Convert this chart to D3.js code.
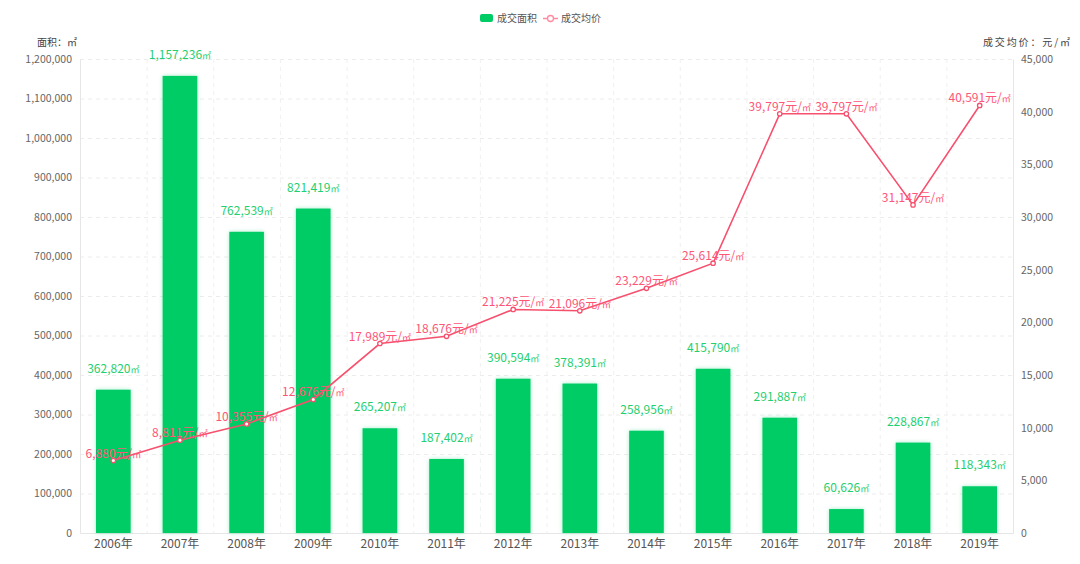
<!DOCTYPE html>
<html><head><meta charset="utf-8">
<script src="https://cdn.jsdelivr.net/npm/d3@7"></script>
<style>body{margin:0;background:#fff;}svg{display:block;font-family:"Noto Sans CJK SC","Noto Sans",sans-serif;}</style>
</head><body>
<svg id="c" width="1080" height="564"></svg>
<script>
const years = ["2006年","2007年","2008年","2009年","2010年","2011年","2012年","2013年","2014年","2015年","2016年","2017年","2018年","2019年"];
const area = [362820,1157236,762539,821419,265207,187402,390594,378391,258956,415790,291887,60626,228867,118343];
const price = [6880,8811,10355,12676,17989,18676,21225,21096,23229,25614,39797,39797,31147,40591];
const leftTicks = [0,100000,200000,300000,400000,500000,600000,700000,800000,900000,1000000,1100000,1200000];
const rightTicks = [0,5000,10000,15000,20000,25000,30000,35000,40000,45000];
const seriesNames = ["成交面积","成交均价"];

const svg = d3.select("#c");
const L = 80, R = 1013, T = 59, B = 533;
const x = d3.scaleBand().domain(years).range([L, R]);
const yL = d3.scaleLinear().domain([0,1200000]).range([B, T]);
const yR = d3.scaleLinear().domain([0,45000]).range([B, T]);
const fmt = d3.format(",");
const green = "#00cc66", red = "#f7506e", redText = "#ff5577", gray = "#666";

const defs = svg.append("defs");
const f = defs.append("filter").attr("id","glow").attr("x","-30%").attr("y","-10%").attr("width","160%").attr("height","120%");
f.append("feDropShadow").attr("dx",0).attr("dy",0).attr("stdDeviation",2).attr("flood-color",green).attr("flood-opacity",0.35);

svg.append("g").selectAll("line").data(leftTicks.slice(1)).join("line")
  .attr("x1",L).attr("x2",R).attr("y1",d=>yL(d)+0.5).attr("y2",d=>yL(d)+0.5)
  .attr("stroke","#ececec").attr("stroke-dasharray","4,4");
svg.append("g").selectAll("line").data(years.slice(1)).join("line")
  .attr("x1",d=>x(d)+0.5).attr("x2",d=>x(d)+0.5).attr("y1",T).attr("y2",B)
  .attr("stroke","#f0f0f0").attr("stroke-dasharray","4,4");

const axL = svg.append("g").attr("transform",`translate(${L},0)`)
  .call(d3.axisLeft(yL).tickValues(leftTicks).tickFormat(fmt).tickSize(0).tickPadding(8));
const axR = svg.append("g").attr("transform",`translate(${R},0)`)
  .call(d3.axisRight(yR).tickValues(rightTicks).tickFormat(fmt).tickSize(0).tickPadding(8));
const axB = svg.append("g").attr("transform",`translate(0,${B})`)
  .call(d3.axisBottom(x).tickSize(0).tickPadding(6));
[axL,axR,axB].forEach(a=>{
  a.select(".domain").attr("stroke","#e6e6e6");
  a.selectAll("text").attr("fill",gray).style("font-family","'Noto Sans CJK SC',sans-serif");
});
axL.selectAll("text").attr("font-size",10.5);
axR.selectAll("text").attr("font-size",10.5);
axB.selectAll("text").attr("font-size",12).attr("fill","#555");

const bw = x.bandwidth()*0.52;
svg.append("g").selectAll("rect").data(years).join("rect")
  .attr("x",(d)=>x(d)+x.bandwidth()/2-bw/2).attr("width",bw)
  .attr("y",(d,i)=>yL(area[i])).attr("height",(d,i)=>B-yL(area[i]))
  .attr("fill",green).attr("filter","url(#glow)");

function lbl(sel, num, unit){
  sel.append("tspan").text(num);
  sel.append("tspan").attr("font-size",9).text(unit);
}
svg.append("g").selectAll("text").data(years).join("text")
  .attr("x",d=>x(d)+x.bandwidth()/2).attr("y",(d,i)=>yL(area[i])-17)
  .attr("text-anchor","middle").attr("font-size",12).attr("fill","#1fcf70")
  .each(function(d,i){ lbl(d3.select(this), fmt(area[i]), "㎡"); });

const line = d3.line().x((d,i)=>x(years[i])+x.bandwidth()/2).y(d=>yR(d));
svg.append("path").datum(price).attr("d",line).attr("fill","none").attr("stroke",red).attr("stroke-width",1.6);
svg.append("g").selectAll("circle").data(price).join("circle")
  .attr("cx",(d,i)=>x(years[i])+x.bandwidth()/2).attr("cy",d=>yR(d)).attr("r",2.2)
  .attr("fill","#fff").attr("stroke",red).attr("stroke-width",1.3);
svg.append("g").selectAll("text").data(price).join("text")
  .attr("x",(d,i)=>x(years[i])+x.bandwidth()/2).attr("y",d=>yR(d)-3)
  .attr("text-anchor","middle").attr("font-size",12).attr("fill",redText)
  .each(function(d){ lbl(d3.select(this), fmt(d)+"元/", "㎡"); });

svg.append("text").attr("x",37).attr("y",46).attr("font-size",10).attr("fill","#444").text("面积：㎡");
svg.append("text").attr("x",983).attr("y",46).attr("font-size",10).attr("fill","#444").attr("textLength",87).text("成交均价：元/㎡");

const lg = svg.append("g");
lg.append("rect").attr("x",480).attr("y",14).attr("width",13).attr("height",8).attr("rx",2).attr("fill",green);
lg.append("text").attr("x",497).attr("y",22).attr("font-size",10).attr("fill","#555").text(seriesNames[0]);
lg.append("line").attr("x1",543).attr("x2",558).attr("y1",18.5).attr("y2",18.5).attr("stroke","#ff8aa0").attr("stroke-width",1.5);
lg.append("circle").attr("cx",550.5).attr("cy",18.5).attr("r",3).attr("fill","#fff").attr("stroke","#ff8aa0").attr("stroke-width",1.3);
lg.append("text").attr("x",561).attr("y",22).attr("font-size",10).attr("fill","#555").text(seriesNames[1]);
</script>
</body></html>
